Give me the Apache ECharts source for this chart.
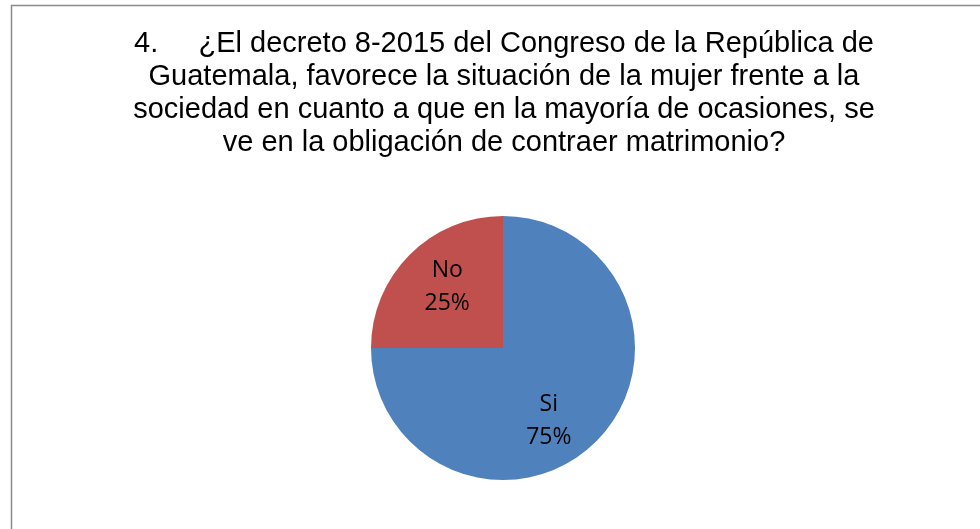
<!DOCTYPE html>
<html>
<head>
<meta charset="utf-8">
<script src="https://cdn.jsdelivr.net/npm/echarts@6/dist/echarts.min.js"></script>
<style>
  html, body { margin: 0; padding: 0; background: #fff; }
  #chart { width: 980px; height: 529px; }
</style>
</head>
<body>
<div id="chart"></div>
<script>
const titleLines = [
  '4.     ¿El decreto 8-2015 del Congreso de la República de',
  'Guatemala, favorece la situación de la mujer frente a la',
  'sociedad en cuanto a que en la mayoría de ocasiones, se',
  've en la obligación de contraer matrimonio?'
]
const categories = ['Si', 'No']
const values = [75, 25]
const sliceColors = ['#4F81BD', '#C0504D']
// Excel puts its inside labels a little off the slice bisector
const labelShift = [[-3, 24], [-7, -12]]

const chart = echarts.init(document.getElementById('chart'), null, { renderer: 'canvas' })

chart.setOption({
  animation: false,
  backgroundColor: '#fff',
  title: {
    text: titleLines.join('\n'),
    left: 504,
    top: 27,
    padding: 0,
    textAlign: 'center',
    textStyle: {
      fontFamily: '"Liberation Sans", Arial, sans-serif',
      fontSize: 29,
      fontWeight: 'normal',
      lineHeight: 33,
      color: '#000'
    }
  },
  graphic: [
    {
      type: 'rect',
      silent: true,
      shape: { x: 11.5, y: 5.5, width: 1000, height: 600 },
      style: { fill: 'none', stroke: '#8a8a8a', lineWidth: 1.5 }
    }
  ],
  series: [
    {
      type: 'pie',
      center: [503, 348],
      radius: 132,
      startAngle: 90,
      clockwise: true,
      emphasis: { disabled: true },
      itemStyle: { borderWidth: 0 },
      label: {
        show: true,
        position: 'inside',
        formatter: '{b}\n{d}%',
        fontFamily: '"Open Sans", sans-serif',
        fontSize: 23,
        lineHeight: 33,
        color: '#000'
      },
      labelLine: { show: false },
      labelLayout: (params) => ({
        dx: labelShift[params.dataIndex][0],
        dy: labelShift[params.dataIndex][1]
      }),
      data: categories.map((name, i) => ({
        name,
        value: values[i],
        itemStyle: { color: sliceColors[i] }
      }))
    }
  ]
})
</script>
</body>
</html>
